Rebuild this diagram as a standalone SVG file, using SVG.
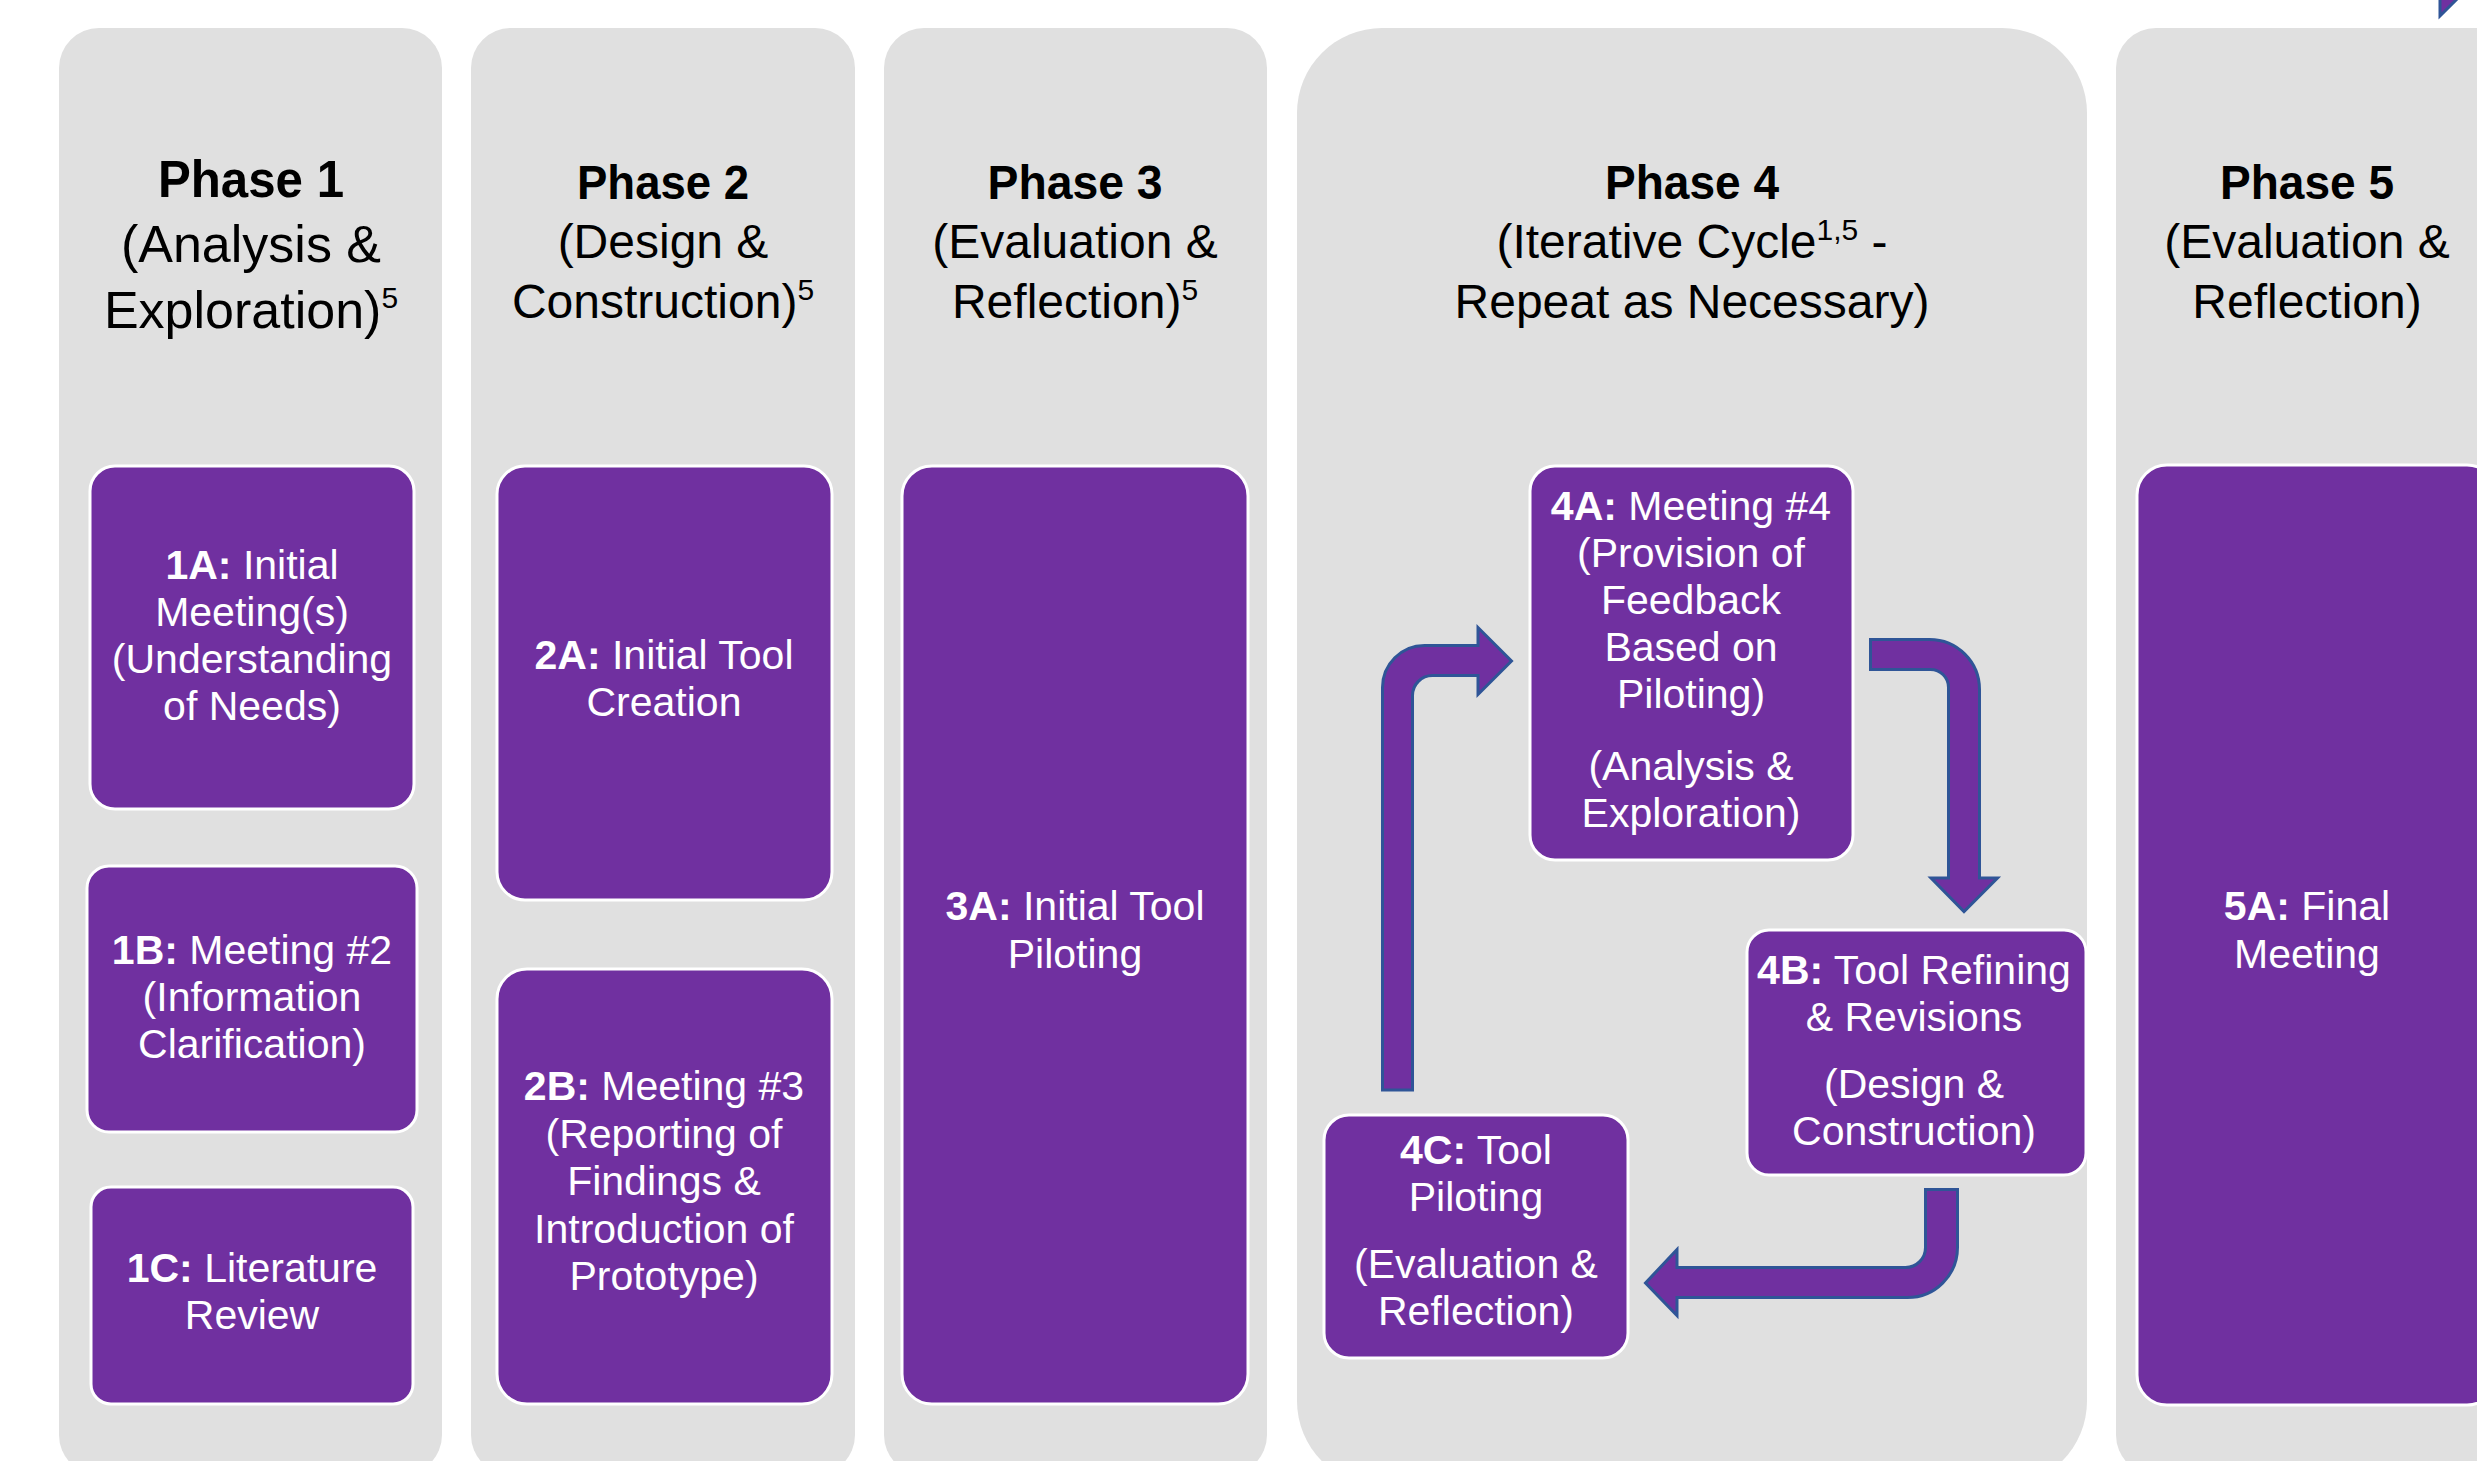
<svg xmlns="http://www.w3.org/2000/svg" width="2477" height="1461" viewBox="0 0 2477 1461">
<style>
.col{fill:#E0E0E0}
.box{fill:#7030A0;stroke:#FFFFFF;stroke-width:3}
.arr{fill:#7030A0;stroke:#2F5597;stroke-width:3;stroke-linejoin:miter}
.t{font-family:"Liberation Sans",Arial,sans-serif;font-size:41px;fill:#FFFFFF;text-anchor:middle}
.b{font-weight:700}
.h{font-family:"Liberation Sans",Arial,sans-serif;font-size:48px;fill:#000000;text-anchor:middle}
.h1{font-size:52px}
.sup{font-size:30px}
</style>
<rect width="2477" height="1461" fill="#FFFFFF"/>

<g id="phase1">
<rect class="col" x="59" y="28" width="383" height="1447" rx="40"/>
<text class="h h1 b" x="251" y="197" textLength="186" lengthAdjust="spacingAndGlyphs">Phase 1</text>
<text class="h h1" x="251" y="262">(Analysis &amp;</text>
<text class="h h1" x="251" y="328">Exploration)<tspan class="sup" dy="-20">5</tspan></text>
</g>
<g id="phase2">
<rect class="col" x="471" y="28" width="384" height="1447" rx="40"/>
<text class="h b" x="663" y="199" textLength="172" lengthAdjust="spacingAndGlyphs">Phase 2</text>
<text class="h" x="663" y="258">(Design &amp;</text>
<text class="h" x="663" y="318">Construction)<tspan class="sup" dy="-18">5</tspan></text>
</g>
<g id="phase3">
<rect class="col" x="884" y="28" width="383" height="1447" rx="40"/>
<text class="h b" x="1075" y="199" textLength="175" lengthAdjust="spacingAndGlyphs">Phase 3</text>
<text class="h" x="1075" y="258">(Evaluation &amp;</text>
<text class="h" x="1075" y="318">Reflection)<tspan class="sup" dy="-18">5</tspan></text>
</g>
<g id="phase4">
<rect class="col" x="1297" y="28" width="790" height="1458" rx="85"/>
<text class="h b" x="1692" y="199" textLength="174" lengthAdjust="spacingAndGlyphs">Phase 4</text>
<text class="h" x="1692" y="258">(Iterative Cycle<tspan class="sup" dy="-18">1,5</tspan><tspan dy="18"> -</tspan></text>
<text class="h" x="1692" y="318">Repeat as Necessary)</text>
</g>
<g id="phase5">
<rect class="col" x="2116" y="28" width="420" height="1447" rx="40"/>
<text class="h b" x="2307" y="199" textLength="174" lengthAdjust="spacingAndGlyphs">Phase 5</text>
<text class="h" x="2307" y="258">(Evaluation &amp;</text>
<text class="h" x="2307" y="318">Reflection)</text>
</g>

<g id="node-1A">
<rect class="box" x="90" y="466" width="324" height="343" rx="25"/>
<text class="t" x="252" y="579"><tspan class="b">1A:</tspan> Initial</text>
<text class="t" x="252" y="626">Meeting(s)</text>
<text class="t" x="252" y="673">(Understanding</text>
<text class="t" x="252" y="720">of Needs)</text>
</g>
<g id="node-1B">
<rect class="box" x="87" y="866" width="330" height="266" rx="22"/>
<text class="t" x="252" y="964"><tspan class="b">1B:</tspan> Meeting #2</text>
<text class="t" x="252" y="1011">(Information</text>
<text class="t" x="252" y="1058">Clarification)</text>
</g>
<g id="node-1C">
<rect class="box" x="91" y="1187" width="322" height="217" rx="20"/>
<text class="t" x="252" y="1282"><tspan class="b">1C:</tspan> Literature</text>
<text class="t" x="252" y="1329">Review</text>
</g>
<g id="node-2A">
<rect class="box" x="497" y="466" width="335" height="434" rx="28"/>
<text class="t" x="664" y="669"><tspan class="b">2A:</tspan> Initial Tool</text>
<text class="t" x="664" y="716">Creation</text>
</g>
<g id="node-2B">
<rect class="box" x="497" y="969" width="335" height="435" rx="30"/>
<text class="t" x="664" y="1100"><tspan class="b">2B:</tspan> Meeting #3</text>
<text class="t" x="664" y="1148">(Reporting of</text>
<text class="t" x="664" y="1195">Findings &amp;</text>
<text class="t" x="664" y="1243">Introduction of</text>
<text class="t" x="664" y="1290">Prototype)</text>
</g>
<g id="node-3A">
<rect class="box" x="902" y="466" width="346" height="938" rx="30"/>
<text class="t" x="1075" y="920"><tspan class="b">3A:</tspan> Initial Tool</text>
<text class="t" x="1075" y="968">Piloting</text>
</g>
<g id="node-4A">
<rect class="box" x="1530" y="466" width="323" height="394" rx="25"/>
<text class="t" x="1691" y="520"><tspan class="b">4A:</tspan> Meeting #4</text>
<text class="t" x="1691" y="567">(Provision of</text>
<text class="t" x="1691" y="614">Feedback</text>
<text class="t" x="1691" y="661">Based on</text>
<text class="t" x="1691" y="708">Piloting)</text>
<text class="t" x="1691" y="780">(Analysis &amp;</text>
<text class="t" x="1691" y="827">Exploration)</text>
</g>
<g id="node-4B">
<rect class="box" x="1747" y="930" width="339" height="245" rx="22"/>
<text class="t" x="1914" y="984"><tspan class="b">4B:</tspan> Tool Refining</text>
<text class="t" x="1914" y="1031">&amp; Revisions</text>
<text class="t" x="1914" y="1098">(Design &amp;</text>
<text class="t" x="1914" y="1145">Construction)</text>
</g>
<g id="node-4C">
<rect class="box" x="1324" y="1115" width="304" height="243" rx="25"/>
<text class="t" x="1476" y="1164"><tspan class="b">4C:</tspan> Tool</text>
<text class="t" x="1476" y="1211">Piloting</text>
<text class="t" x="1476" y="1278">(Evaluation &amp;</text>
<text class="t" x="1476" y="1325">Reflection)</text>
</g>
<g id="node-5A">
<rect class="box" x="2137" y="465" width="360" height="940" rx="30"/>
<text class="t" x="2307" y="920"><tspan class="b">5A:</tspan> Final</text>
<text class="t" x="2307" y="968">Meeting</text>
</g>

<g id="connectors">
<path class="arr" d="M1382.5,1090 L1382.5,687.5 A42,42 0 0 1 1424.5,645.5 L1478,645.5 L1478,627.5 L1511.5,661 L1478,694.5 L1478,675.5 L1432.5,675.5 A20,20 0 0 0 1412.5,695.5 L1412.5,1090 Z"/>
<path class="arr" d="M1870.5,639.5 L1929.5,639.5 A50,50 0 0 1 1979.5,689.5 L1979.5,878 L1997.5,878 L1964,911.5 L1931,878 L1948.5,878 L1948.5,687.5 A18,18 0 0 0 1930.5,669.5 L1870.5,669.5 Z"/>
<path class="arr" d="M1925.5,1189.5 L1957.5,1189.5 L1957.5,1247.5 A50,50 0 0 1 1907.5,1297.5 L1677,1297.5 L1677,1315.5 L1645.5,1283 L1677,1249.5 L1677,1267.5 L1905.5,1267.5 A20,20 0 0 0 1925.5,1247.5 Z"/>
<path class="arr" d="M2440,-2 L2458,-2 L2440,16 Z"/>
</g>
</svg>
